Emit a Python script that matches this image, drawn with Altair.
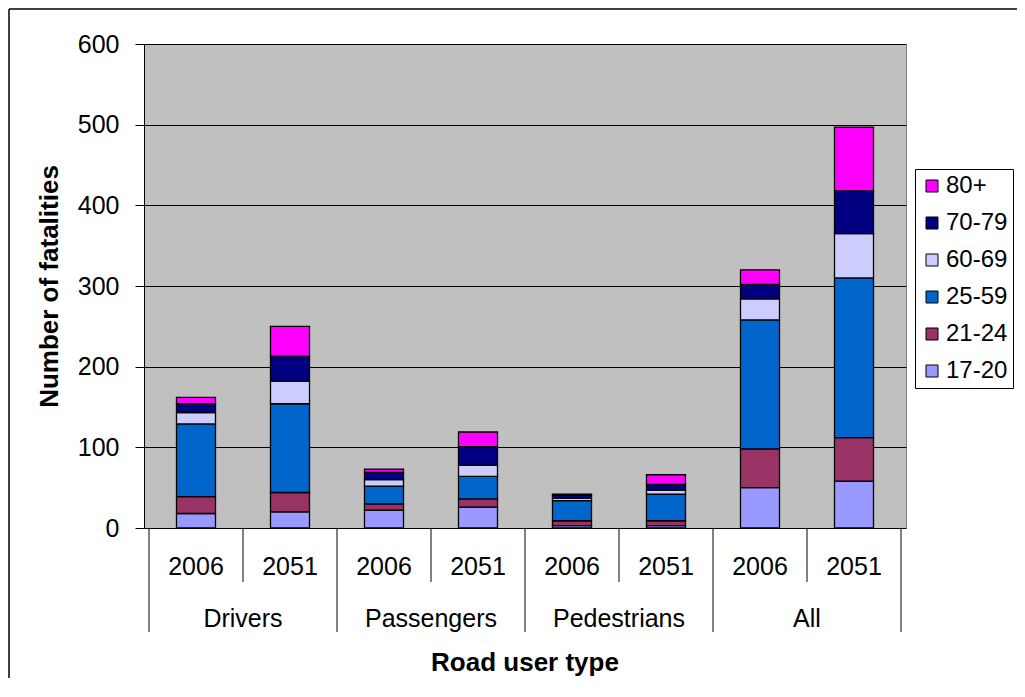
import altair as alt
import pandas as pd

# ---- data ----
groups = ["Drivers", "Passengers", "Pedestrians", "All"]
years = ["2006", "2051"]
ages = ["17-20", "21-24", "25-59", "60-69", "70-79", "80+"]
# one value per bar: Drivers 2006, Drivers 2051, Passengers 2006, Passengers 2051,
# Pedestrians 2006, Pedestrians 2051, All 2006, All 2051
v_17_20 = [18, 20, 22, 26, 3, 3, 50, 58]
v_21_24 = [21, 24, 8, 10, 6, 6, 48, 54]
v_25_59 = [90, 110, 22, 28, 25, 33, 160, 198]
v_60_69 = [14, 28, 8, 14, 3, 5, 26, 55]
v_70_79 = [11, 31, 9, 23, 4, 7, 18, 53]
v_80p = [8, 37, 4, 18, 1, 12, 18, 79]
colors = ["#9999FF", "#993366", "#0066CC", "#CCCCFF", "#000080", "#FF00FF"]

series = [v_17_20, v_21_24, v_25_59, v_60_69, v_70_79, v_80p]
rows = []
for ai, (age, vals) in enumerate(zip(ages, series)):
    for b, val in enumerate(vals):
        rows.append({"pos": b + 0.5, "age": age, "ord": ai, "value": val})
bars_df = pd.DataFrame(rows)

year_df = pd.DataFrame({"pos": [i + 0.5 for i in range(8)],
                        "label": [years[i % 2] for i in range(8)]})
group_df = pd.DataFrame({"pos": [2 * g + 1 for g in range(len(groups))],
                         "label": groups})
year_sep = pd.DataFrame({"pos": [1, 3, 5, 7]})
group_sep = pd.DataFrame({"pos": [0, 2, 4, 6, 8]})
title_df = pd.DataFrame({"pos": [4], "label": ["Road user type"]})
one = pd.DataFrame({"k": [0]})

W, H = 762, 484
FONT = "Liberation Sans"
xscale = alt.Scale(domain=[0, 8], nice=False, zero=False)

legend_order = ages[::-1]
legend_colors = colors[::-1]

bars = alt.Chart(bars_df).mark_bar(size=39, stroke="black", strokeWidth=1.3).encode(
    x=alt.X("pos:Q", scale=xscale, axis=None),
    y=alt.Y("value:Q", stack="zero",
            scale=alt.Scale(domain=[0, 600], nice=False),
            axis=alt.Axis(values=[0, 100, 200, 300, 400, 500, 600], grid=True,
                          gridColor="black", gridWidth=1, gridOpacity=1,
                          tickColor="black", tickSize=9, tickWidth=1,
                          domainColor="black", domainWidth=1,
                          labelFont=FONT, labelFontSize=25, labelColor="black",
                          labelPadding=16,
                          title="Number of fatalities", titleFont=FONT,
                          titleFontSize=26, titleFontWeight="bold",
                          titleColor="black", titlePadding=15)),
    color=alt.Color("age:N",
                    scale=alt.Scale(domain=legend_order, range=legend_colors),
                    legend=alt.Legend(title=None, orient="none",
                                      legendX=771, legendY=125,
                                      strokeColor="black", fillColor="white",
                                      padding=5, symbolType="square",
                                      symbolSize=144, symbolStrokeColor="black",
                                      symbolStrokeWidth=1, labelFont=FONT,
                                      labelFontSize=24, labelColor="black",
                                      labelOffset=2, rowPadding=13)),
    order=alt.Order("ord:Q", sort="ascending"),
)

years_txt = alt.Chart(year_df).mark_text(font=FONT, fontSize=25, color="black",
                                         baseline="middle", align="center").encode(
    x=alt.X("pos:Q", scale=xscale, axis=None),
    y=alt.value(H + 39),
    text="label:N",
)
groups_txt = alt.Chart(group_df).mark_text(font=FONT, fontSize=25, color="black",
                                           baseline="middle", align="center").encode(
    x=alt.X("pos:Q", scale=xscale, axis=None),
    y=alt.value(H + 91),
    text="label:N",
)
xtitle = alt.Chart(title_df).mark_text(font=FONT, fontSize=26, fontWeight="bold",
                                       color="black", baseline="middle",
                                       align="center").encode(
    x=alt.X("pos:Q", scale=xscale, axis=None),
    y=alt.value(H + 135),
    text="label:N",
)
ysep = alt.Chart(year_sep).mark_rule(color="black", strokeWidth=1).encode(
    x=alt.X("pos:Q", scale=xscale, axis=None),
    y=alt.value(H),
    y2=alt.value(H + 54),
)
gsep = alt.Chart(group_sep).mark_rule(color="black", strokeWidth=1).encode(
    x=alt.X("pos:Q", scale=xscale, axis=None),
    y=alt.value(H),
    y2=alt.value(H + 104),
)
border_left = alt.Chart(one).mark_rule(color="black", strokeWidth=1.5).encode(
    x=alt.value(-135), y=alt.value(-35), y2=alt.value(H + 300))
border_top = alt.Chart(one).mark_rule(color="black", strokeWidth=1.5).encode(
    x=alt.value(-135), x2=alt.value(W + 300), y=alt.value(-35))

chart = alt.layer(bars, years_txt, groups_txt, xtitle, ysep, gsep,
                  border_left, border_top).properties(
    width=W, height=H,
    padding={"left": 136, "top": 36, "right": 111, "bottom": 150},
    autosize=alt.AutoSizeParams(type="none"),
    background="white",
).configure_view(
    fill="#C0C0C0", stroke="#808080", strokeWidth=1
)

chart.save("out.html", embed_options={"renderer": "svg", "actions": False})
